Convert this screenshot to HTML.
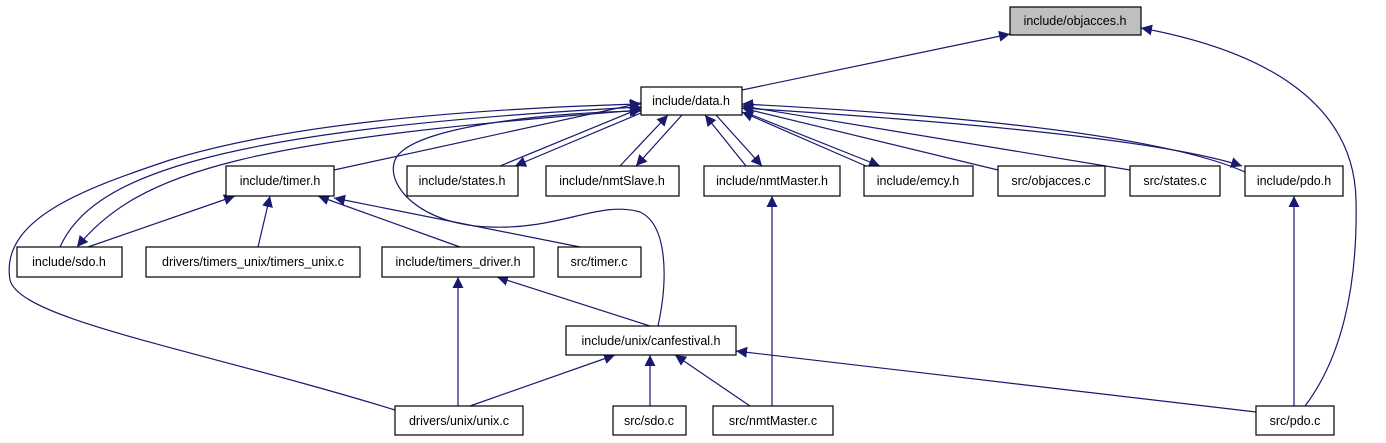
<!DOCTYPE html>
<html><head><meta charset="utf-8"><style>
html,body{margin:0;padding:0;background:#fff;}
svg{display:block}
text{font-family:"Liberation Sans",sans-serif;font-size:12.5px;fill:#000;}
</style></head><body>
<svg width="1386" height="443" viewBox="0 0 1386 443" xmlns="http://www.w3.org/2000/svg">
<defs>
<marker id="a" viewBox="0 0 10 10" refX="10" refY="5" markerWidth="11" markerHeight="11" markerUnits="userSpaceOnUse" orient="auto">
<path d="M0,0 L10,5 L0,10 z" fill="#191970"/>
</marker>
</defs>
<g fill="none" stroke="#191970" stroke-width="1.2" marker-end="url(#a)">
<path d="M742,90 L1010,34"/>
<path d="M1305,406 C1340,360 1358,290 1356,200 C1354,100 1260,50 1141,28"/>
<path d="M334,170 L641,103"/>
<path d="M500,166 L641,108"/>
<path d="M641,113 L515,166"/>
<path d="M620,166 L668,115"/>
<path d="M682,115 L636,166"/>
<path d="M746,166 L705,115"/>
<path d="M716,115 L762,166"/>
<path d="M866,166 L742,112"/>
<path d="M752,115 L880,166"/>
<path d="M998,170 L742,108"/>
<path d="M1130,170 L742,106"/>
<path d="M1245,172 C1150,130 900,112 742,104"/>
<path d="M742,108 C900,118 1150,136 1242,166"/>
<path d="M60,247 C90,180 200,130 641,107"/>
<path d="M641,110 C250,140 140,170 77,247"/>
<path d="M88,247 L235,196"/>
<path d="M395,410 C200,350 20,320 10,280 C0,220 80,190 170,160 C300,120 500,108 641,104"/>
<path d="M658,326 C668,280 668,225 640,212 C600,200 560,230 490,227 C420,225 385,185 395,160 C410,125 560,112 641,111"/>
<path d="M258,247 L270,196"/>
<path d="M460,247 L318,196"/>
<path d="M580,247 L334,198"/>
<path d="M650,326 L497,277"/>
<path d="M458,406 L458,277"/>
<path d="M470,406 L615,355"/>
<path d="M650,406 L650,355"/>
<path d="M750,406 L675,355"/>
<path d="M1256,412 L736,351"/>
<path d="M772,406 L772,196"/>
<path d="M1294,406 L1294,196"/>
</g>
<g stroke="#000" stroke-width="1.2" fill="#fff">
<rect x="1010" y="7" width="131" height="28" fill="#bfbfbf"/>
<rect x="641" y="87" width="101" height="28"/>
<rect x="226" y="166" width="108" height="30"/>
<rect x="407" y="166" width="111" height="30"/>
<rect x="546" y="166" width="133" height="30"/>
<rect x="704" y="166" width="136" height="30"/>
<rect x="864" y="166" width="109" height="30"/>
<rect x="998" y="166" width="107" height="30"/>
<rect x="1130" y="166" width="90" height="30"/>
<rect x="1245" y="166" width="98" height="30"/>
<rect x="17" y="247" width="105" height="30"/>
<rect x="146" y="247" width="214" height="30"/>
<rect x="382" y="247" width="152" height="30"/>
<rect x="558" y="247" width="83" height="30"/>
<rect x="566" y="326" width="170" height="29"/>
<rect x="395" y="406" width="128" height="29"/>
<rect x="613" y="406" width="73" height="29"/>
<rect x="713" y="406" width="120" height="29"/>
<rect x="1256" y="406" width="78" height="29"/>
</g>
<g text-anchor="middle">
<text x="1075" y="25">include/objacces.h</text>
<text x="691" y="105">include/data.h</text>
<text x="280" y="185">include/timer.h</text>
<text x="462" y="185">include/states.h</text>
<text x="612" y="185">include/nmtSlave.h</text>
<text x="772" y="185">include/nmtMaster.h</text>
<text x="918" y="185">include/emcy.h</text>
<text x="1051" y="185">src/objacces.c</text>
<text x="1175" y="185">src/states.c</text>
<text x="1294" y="185">include/pdo.h</text>
<text x="69" y="266">include/sdo.h</text>
<text x="253" y="266">drivers/timers_unix/timers_unix.c</text>
<text x="458" y="266">include/timers_driver.h</text>
<text x="599" y="266">src/timer.c</text>
<text x="651" y="345">include/unix/canfestival.h</text>
<text x="459" y="425">drivers/unix/unix.c</text>
<text x="649" y="425">src/sdo.c</text>
<text x="773" y="425">src/nmtMaster.c</text>
<text x="1295" y="425">src/pdo.c</text>
</g>
</svg>
</body></html>
